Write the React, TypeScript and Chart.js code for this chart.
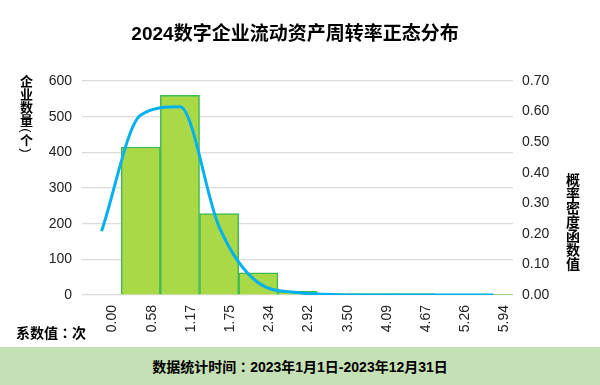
import React, { useEffect, useRef } from "react";
import { Chart, registerables } from "chart.js";

Chart.register(...registerables);

const categories: string[] = ["0.00", "0.58", "1.17", "1.75", "2.34", "2.92", "3.50", "4.09", "4.67", "5.26", "5.94"];
const companyCounts: (number | null)[] = [null, 415, 560, 228, 62, 10, 4, 4, 4, 2, 2];
const densityValues: number[] = [0.209, 0.589, 0.616, 0.223, 0.04, 0.008, 0.001, 0, 0, 0, 0];

const titleText = "2024数字企业流动资产周转率正态分布";
const leftAxisTitle = "企业数量(个)";
const rightAxisTitle = "概率密度函数值";
const xAxisNoteLabel = "系数值";
const xAxisNoteUnit = "次";
const footerLabel = "数据统计时间";
const footerRange = "2023年1月1日-2023年12月31日";

const FONT = '"Liberation Sans", "Noto Sans CJK SC", sans-serif';
const COLON_FONT = '"Noto Sans CJK TC", "Noto Sans CJK JP", sans-serif';

function VerticalText({ text, size, left, top }: { text: string; size: number; left: number; top: number }) {
  const chars = Array.from(text);
  return (
    <div
      style={{
        position: "absolute",
        left,
        top,
        width: size + 2,
        fontFamily: FONT,
        fontWeight: "bold",
        fontSize: size,
        color: "#000",
      }}
    >
      {chars.map((c, i) => {
        const isParen = c === "(" || c === ")";
        return (
          <div
            key={i}
            style={{
              height: isParen ? Math.round(size * 0.5) : size,
              lineHeight: (isParen ? Math.round(size * 0.5) : size) + "px",
              textAlign: "center",
              transform: isParen ? "rotate(90deg)" : undefined,
              fontWeight: isParen ? "normal" : "bold",
            }}
          >
            {c}
          </div>
        );
      })}
    </div>
  );
}

export default function App() {
  const canvasRef = useRef<HTMLCanvasElement | null>(null);

  useEffect(() => {
    if (!canvasRef.current) return;
    const chart = new Chart(canvasRef.current, {
      type: "bar",
      data: {
        labels: categories,
        datasets: [
          {
            type: "line",
            label: "概率密度",
            data: densityValues,
            yAxisID: "y1",
            borderColor: "#00b0f0",
            borderWidth: 3,
            pointRadius: 0,
            fill: false,
            cubicInterpolationMode: "monotone",
            order: 0,
          } as any,
          {
            type: "bar",
            label: "企业数量",
            data: companyCounts,
            yAxisID: "y",
            backgroundColor: "#aad948",
            borderColor: "#3dbb4f",
            borderWidth: 1.5,
            barPercentage: 1,
            categoryPercentage: 1,
            order: 1,
          } as any,
        ],
      },
      options: {
        responsive: false,
        animation: false,
        layout: { padding: { top: 81, left: 0, right: 0, bottom: 0 } },
        plugins: {
          legend: { display: false },
          tooltip: { enabled: false },
          title: { display: false },
        },
        scales: {
          x: {
            type: "category",
            offset: true,
            grid: { display: false, drawTicks: false },
            border: { display: false },
            ticks: {
              autoSkip: false,
              maxRotation: 90,
              minRotation: 90,
              padding: 10,
              labelOffset: 11,
              color: "#222",
              font: { family: FONT, size: 14 },
            },
            afterFit: (s: any) => {
              s.height = 90;
            },
          },
          y: {
            position: "left",
            min: 0,
            max: 600,
            ticks: {
              stepSize: 100,
              padding: 10,
              color: "#222",
              font: { family: FONT, size: 14 },
            },
            grid: { color: "#dcdcdc", lineWidth: 1.2, drawTicks: false },
            border: { display: false },
            afterFit: (s: any) => {
              s.width = 82;
            },
          },
          y1: {
            position: "right",
            min: 0,
            max: 0.7,
            ticks: {
              stepSize: 0.1,
              padding: 9,
              color: "#222",
              font: { family: FONT, size: 14 },
              callback: (v: any) => Number(v).toFixed(2),
            },
            grid: { drawOnChartArea: false, drawTicks: false },
            border: { display: false },
            afterFit: (s: any) => {
              s.width = 87;
            },
          },
        },
      } as any,
    });
    return () => chart.destroy();
  }, []);

  const base: React.CSSProperties = {
    position: "absolute",
    fontFamily: FONT,
    fontWeight: "bold",
    color: "#000",
    whiteSpace: "nowrap",
  };
  const colon: React.CSSProperties = { fontFamily: COLON_FONT };

  return (
    <div style={{ position: "fixed", left: 0, top: 0, width: 600, height: 385, background: "#fff", overflow: "hidden" }}>
      <canvas ref={canvasRef} width={600} height={385} style={{ position: "absolute", left: 0, top: 0, width: 600, height: 385 }} />
      <div style={{ ...base, left: -5, top: 24, width: 600, textAlign: "center", fontSize: 19, lineHeight: "19px" }}>{titleText}</div>
      <VerticalText text={leftAxisTitle} size={13} left={19} top={75} />
      <VerticalText text={rightAxisTitle} size={14} left={565} top={173} />
      <div style={{ ...base, left: 16, top: 325, fontSize: 14, lineHeight: "14px" }}>
        {xAxisNoteLabel}
        <span style={colon}>：</span>
        {xAxisNoteUnit}
      </div>
      <div style={{ ...base, left: 0, top: 347, width: 600, height: 38, background: "#c5e0b4", textAlign: "center", fontSize: 14, lineHeight: "38px" }}>
        {footerLabel}
        <span style={colon}>：</span>
        {footerRange}
      </div>
    </div>
  );
}
